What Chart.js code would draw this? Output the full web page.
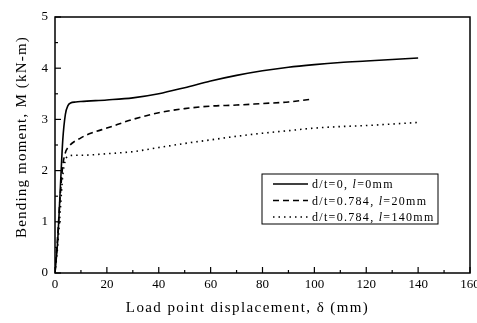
<!DOCTYPE html>
<html>
<head>
<meta charset="utf-8">
<script src="https://cdn.jsdelivr.net/npm/chart.js@4/dist/chart.umd.min.js"></script>
<style>
  html, body { margin: 0; padding: 0; background: #fff; }
  #wrap { width: 477px; height: 323px; }
</style>
</head>
<body>
<div id="wrap"><canvas id="momentChart" width="477" height="323"></canvas></div>
<script>
// ================= DATA =================
const xTicks = [0, 20, 40, 60, 80, 100, 120, 140, 160];
const yTicks = [0, 1, 2, 3, 4, 5];

// d/t=0, l=0mm
const solidX = [0, 1, 2, 3, 4, 5, 6, 8, 10, 20, 30, 40, 50, 60, 70, 80, 90, 100, 110, 120, 130, 140];
const solidM = [0, 0.6, 1.6, 2.6, 3.1, 3.27, 3.32, 3.34, 3.35, 3.38, 3.42, 3.5, 3.62, 3.75, 3.86, 3.95, 4.02, 4.07, 4.11, 4.14, 4.17, 4.2];

// d/t=0.784, l=20mm
const dashX = [0, 1, 2, 3, 4, 5, 10, 15, 20, 30, 40, 50, 60, 70, 80, 90, 98];
const dashM = [0, 0.7, 1.5, 2.1, 2.35, 2.45, 2.64, 2.75, 2.83, 3.0, 3.13, 3.21, 3.26, 3.28, 3.31, 3.34, 3.39];

// d/t=0.784, l=140mm
const dotX = [0, 1, 2, 3, 4, 5, 8, 10, 20, 30, 40, 50, 60, 70, 80, 90, 100, 110, 120, 130, 140];
const dotM = [0, 0.5, 1.2, 1.9, 2.2, 2.28, 2.3, 2.3, 2.33, 2.37, 2.45, 2.53, 2.6, 2.67, 2.73, 2.78, 2.83, 2.86, 2.88, 2.91, 2.94];

const xTitle = "Load point displacement, δ (mm)";
const yTitle = "Bending moment, M (kN-m)";

const legendParts = [
  ["d/t=0, ", "l", "=0mm"],
  ["d/t=0.784, ", "l", "=20mm"],
  ["d/t=0.784, ", "l", "=140mm"],
];

const SERIF = "'Liberation Serif', 'DejaVu Serif', serif";

function toPoints(xs, ys) {
  return xs.map((x, i) => ({ x: x, y: ys[i] }));
}

// ================= FRAME, TICKS, TITLES, LEGEND =================
const framePlugin = {
  id: "framePlugin",
  afterDraw(chart) {
    const ctx = chart.ctx;
    const area = chart.chartArea;
    const xs = chart.scales.x;
    const ys = chart.scales.y;

    ctx.save();
    ctx.strokeStyle = "#000";
    ctx.lineWidth = 1.5;
    ctx.strokeRect(area.left, area.top, area.right - area.left, area.bottom - area.top);

    // inward ticks, bottom and left only
    ctx.lineWidth = 1.2;
    for (let v = 0; v <= 160; v += 10) {
      const px = xs.getPixelForValue(v);
      const len = v % 20 === 0 ? 6 : 3;
      ctx.beginPath();
      ctx.moveTo(px, area.bottom);
      ctx.lineTo(px, area.bottom - len);
      ctx.stroke();
    }
    for (let v = 0; v <= 5; v += 0.5) {
      const py = ys.getPixelForValue(v);
      const len = Number.isInteger(v) ? 6 : 3;
      ctx.beginPath();
      ctx.moveTo(area.left, py);
      ctx.lineTo(area.left + len, py);
      ctx.stroke();
    }

    // axis titles (spaced like the scan)
    ctx.fillStyle = "#000";
    ctx.textAlign = "center";
    ctx.textBaseline = "middle";
    ctx.font = "15px " + SERIF;
    ctx.letterSpacing = "1.4px";
    ctx.fillText(xTitle, (area.left + area.right) / 2 - 15, 308);

    ctx.save();
    ctx.translate(22, (area.top + area.bottom) / 2 - 8);
    ctx.rotate(-Math.PI / 2);
    ctx.letterSpacing = "1.2px";
    ctx.fillText(yTitle, 0, 0);
    ctx.restore();

    // legend box
    const bx = 262, by = 174, bw = 176, bh = 50;
    ctx.lineWidth = 1;
    ctx.strokeRect(bx, by, bw, bh);

    ctx.textAlign = "left";
    chart.data.datasets.forEach((ds, i) => {
      const y = by + 10 + i * 16.5;
      ctx.beginPath();
      ctx.lineWidth = ds.borderWidth;
      ctx.setLineDash(ds.borderDash || []);
      ctx.moveTo(bx + 11, y);
      ctx.lineTo(bx + 46, y);
      ctx.stroke();
      ctx.setLineDash([]);

      let tx = bx + 50;
      ctx.letterSpacing = "1.3px";
      legendParts[i].forEach((part, j) => {
        ctx.font = (j === 1 ? "italic " : "") + "12px " + SERIF;
        ctx.fillText(part, tx, y + 1);
        tx += ctx.measureText(part).width;
      });
    });
    ctx.restore();
  },
};

// ================= CHART =================
new Chart(document.getElementById("momentChart"), {
  type: "scatter",
  data: {
    datasets: [
      {
        label: "d/t=0, l=0mm",
        data: toPoints(solidX, solidM),
        borderColor: "#000",
        borderWidth: 1.6,
        showLine: true,
        pointRadius: 0,
        cubicInterpolationMode: "monotone",
      },
      {
        label: "d/t=0.784, l=20mm",
        data: toPoints(dashX, dashM),
        borderColor: "#000",
        borderWidth: 1.6,
        borderDash: [6, 4],
        showLine: true,
        pointRadius: 0,
        cubicInterpolationMode: "monotone",
      },
      {
        label: "d/t=0.784, l=140mm",
        data: toPoints(dotX, dotM),
        borderColor: "#000",
        borderWidth: 1.6,
        borderDash: [1.5, 4],
        showLine: true,
        pointRadius: 0,
        cubicInterpolationMode: "monotone",
      },
    ],
  },
  options: {
    responsive: false,
    animation: false,
    layout: { padding: { left: 0, right: 7, top: 17, bottom: 0 } },
    plugins: {
      legend: { display: false },
      tooltip: { enabled: false },
    },
    scales: {
      x: {
        type: "linear",
        min: 0,
        max: 160,
        afterBuildTicks: (scale) => {
          scale.ticks = xTicks.map((v) => ({ value: v }));
        },
        afterFit: (scale) => {
          scale.height = 50;
          scale.paddingLeft = 0;
          scale.paddingRight = 0;
        },
        grid: { display: false, drawTicks: false },
        border: { display: false },
        ticks: {
          color: "#000",
          padding: 4,
          maxRotation: 0,
          autoSkip: false,
          font: { family: SERIF, size: 13 },
        },
      },
      y: {
        type: "linear",
        min: 0,
        max: 5,
        afterBuildTicks: (scale) => {
          scale.ticks = yTicks.map((v) => ({ value: v }));
        },
        afterFit: (scale) => {
          scale.width = 55;
          scale.paddingTop = 0;
          scale.paddingBottom = 0;
        },
        grid: { display: false, drawTicks: false },
        border: { display: false },
        ticks: {
          color: "#000",
          padding: 7,
          font: { family: SERIF, size: 13 },
        },
      },
    },
  },
  plugins: [framePlugin],
});
</script>
</body>
</html>
